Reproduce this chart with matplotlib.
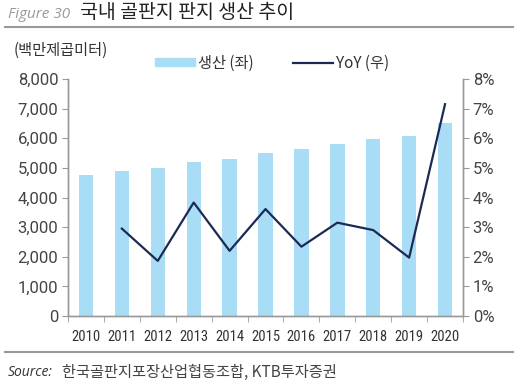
import matplotlib
matplotlib.use("Agg")
import matplotlib.pyplot as plt
from matplotlib.lines import Line2D
from matplotlib.patches import Patch
import numpy as np

years = ["2010", "2011", "2012", "2013", "2014", "2015", "2016", "2017", "2018", "2019", "2020"]
production = [4760, 4900, 5000, 5190, 5300, 5500, 5630, 5810, 5980, 6090, 6530]
yoy = [None, 2.95, 1.86, 3.83, 2.20, 3.61, 2.34, 3.15, 2.90, 1.97, 7.15]

left_ticks = [0, 1000, 2000, 3000, 4000, 5000, 6000, 7000, 8000]
right_ticks = [0, 1, 2, 3, 4, 5, 6, 7, 8]

plt.rcParams['font.family'] = ['Noto Sans CJK KR', 'DejaVu Sans']

W, H = 517, 390
fig = plt.figure(figsize=(W / 100, H / 100), dpi=100)

def fx(px):
    return px / W

def fy(py):
    return 1 - py / H

ax = fig.add_axes([fx(68), fy(316), fx(463) - fx(68), fy(79) - fy(316)])
ax2 = ax.twinx()

x = np.arange(len(years))
bar_color = "#A9DDF5"
line_color = "#1B2A55"
ax.bar(x, production, width=0.4, color=bar_color, zorder=2)
xs = [xi for xi, v in zip(x, yoy) if v is not None]
ys = [v for v in yoy if v is not None]
ax2.plot(xs, ys, color=line_color, linewidth=1.6, zorder=3)

ax.set_xlim(-0.5, len(years) - 0.5)
ax.set_ylim(0, 8000)
ax2.set_ylim(0, 8)
ax.set_yticks(left_ticks)
ax.set_yticklabels([f"{v:,}" for v in left_ticks])
ax2.set_yticks(right_ticks)
ax2.set_yticklabels([f"{v}%" for v in right_ticks])
ax.set_xticks(x)
ax.set_xticklabels(years)
ax.set_xticks(np.arange(-0.5, len(years), 1), minor=True)
ax.tick_params(axis='x', which='major', length=0, pad=10)
ax.tick_params(axis='x', which='minor', length=4, color="#999999", direction='out')

for lab in ax.get_xticklabels():
    lab.set_fontfamily(['Roboto Condensed', 'Liberation Sans Narrow', 'DejaVu Sans'])
    lab.set_fontsize(10.5)
    lab.set_color("#333333")
for lab in ax.get_yticklabels() + ax2.get_yticklabels():
    lab.set_fontfamily(['Roboto', 'DejaVu Sans'])
    lab.set_fontsize(12)
    lab.set_color("#444444")

ax.tick_params(axis='y', length=4, color="#999999", pad=3)
ax2.tick_params(axis='y', length=4, color="#999999", pad=3)

for a in (ax, ax2):
    a.spines['top'].set_visible(False)
    for s in ('left', 'right', 'bottom'):
        a.spines[s].set_color("#999999")
        a.spines[s].set_linewidth(1.0)

# Title
fig.text(fx(8), fy(14), "Figure 30", fontsize=11, style='italic', color="#9a9a9a",
         family=['Open Sans', 'DejaVu Sans'], va='center')
fig.text(fx(80), fy(13), "국내 골판지 판지 생산 추이", fontsize=14, color="#222222", va='center')
fig.add_artist(Line2D([fx(5), fx(513)], [fy(27), fy(27)], color="#999999", linewidth=1.5))

# unit label
fig.text(fx(14), fy(50), "(백만제곱미터)", fontsize=11, color="#333333", va='center')

# Legend
handles = [Patch(color=bar_color), Line2D([], [], color=line_color, linewidth=1.6)]
fig.legend(handles, ["생산 (좌)", "YoY (우)"], loc='center left', bbox_to_anchor=(fx(155), fy(63)),
           ncol=2, frameon=False, fontsize=11, handlelength=2.6, handleheight=0.5,
           columnspacing=2.6, handletextpad=0.2, borderpad=0, borderaxespad=0,
           labelcolor="#333333")

# bottom rule and source
fig.add_artist(Line2D([fx(5), fx(513)], [fy(352), fy(352)], color="#999999", linewidth=1.5))
fig.text(fx(8), fy(372), "Source:", fontsize=10, style='italic', color="#333333",
         family=['Open Sans', 'DejaVu Sans'], va='center')
fig.text(fx(62), fy(372), "한국골판지포장산업협동조합, KTB투자증권", fontsize=11, color="#444444", va='center')

fig.savefig("out.png", dpi=100)
